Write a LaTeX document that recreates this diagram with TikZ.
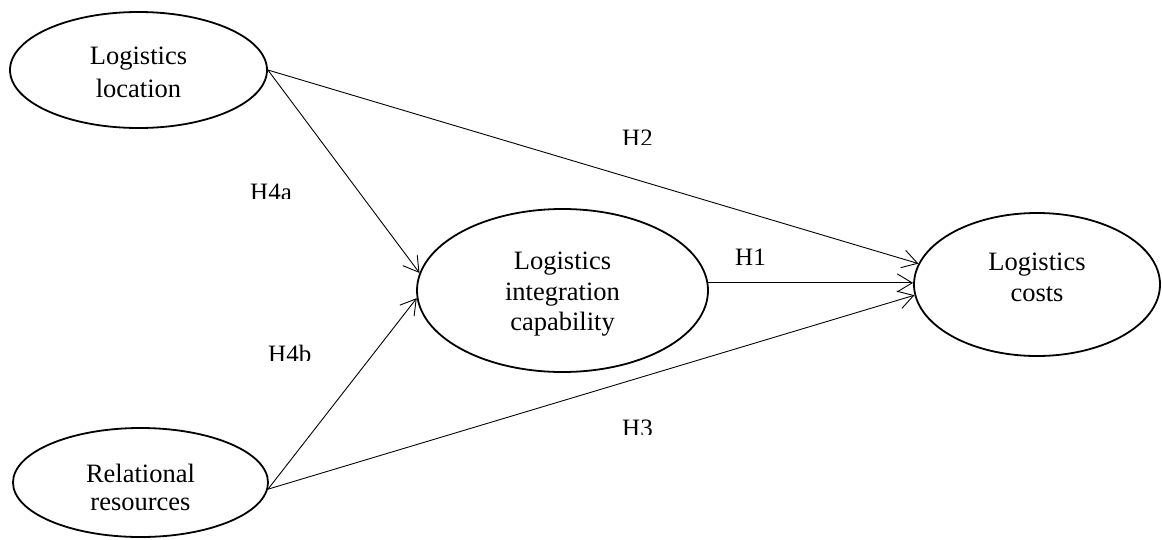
\documentclass[tikz,border=0pt]{standalone}
\usepackage{fontspec}
\setmainfont{Liberation Serif}
\usetikzlibrary{arrows.meta,shapes.geometric}

\tikzset{
  construct/.style={ellipse, draw, line width=1.8pt, inner sep=0pt},
  ctext/.style={anchor=north, inner sep=0pt, align=center},
  path/.style={line width=0.9pt, -{Straight Barb[length=15pt,width=18pt,line width=0.9pt]}},
  hyp/.style={anchor=base west, inner sep=0pt, font=\fontsize{25}{30}\selectfont}
}

\begin{document}
\begin{tikzpicture}[x=1pt,y=-1pt]
  \useasboundingbox (0,0) rectangle (1162,539);

  % latent constructs
  \node[construct, minimum width=257pt, minimum height=116pt] (loc) at (138.5,70) {};
  \node[construct, minimum width=255pt, minimum height=109pt] (rel) at (140.5,482.5) {};
  \node[construct, minimum width=291pt, minimum height=163pt] (lic) at (562.5,290.5) {};
  \node[construct, minimum width=246pt, minimum height=143pt] (cost) at (1037,284.5) {};

  % construct names
  \node[ctext, font=\fontsize{26.5}{33}\selectfont] (loct) at (138.5,47) {Logistics\\location};
  \node[ctext, font=\fontsize{26.5}{28}\selectfont] (relt) at (140.5,464) {Relational\\resources};
  \node[ctext, font=\fontsize{26.5}{30.5}\selectfont] (lict) at (562.5,252) {Logistics\\integration\\capability};
  \node[ctext, font=\fontsize{26.5}{30.5}\selectfont] (costt) at (1037,253) {Logistics\\costs};

  % hypothesised paths
  \draw[path] (loc.east) -- (lic.173.1);
  \draw[path] (loc.east) -- (cost.170.3);
  \draw[path] (rel.357.5) -- (lic.183);
  \draw[path] (rel.357.5) -- (cost.185.8);
  \draw[path] (lic.3.3) -- (cost.west |- lic.3.3);

  % hypothesis labels (lower edge trimmed)
  \begin{scope}
    \clip (240,170) rectangle (300,198.5);
    \node[hyp] (h4a) at (250,200) {H4a};
  \end{scope}
  \begin{scope}
    \clip (260,330) rectangle (320,360.5);
    \node[hyp] (h4b) at (268,362) {H4b};
  \end{scope}
  \begin{scope}
    \clip (610,115) rectangle (670,144);
    \node[hyp] (h2) at (622,146) {H2};
  \end{scope}
  \begin{scope}
    \clip (610,405) rectangle (670,434.5);
    \node[hyp] (h3) at (622,436) {H3};
  \end{scope}
  \node[hyp] (h1) at (735,265) {H1};
\end{tikzpicture}
\end{document}
